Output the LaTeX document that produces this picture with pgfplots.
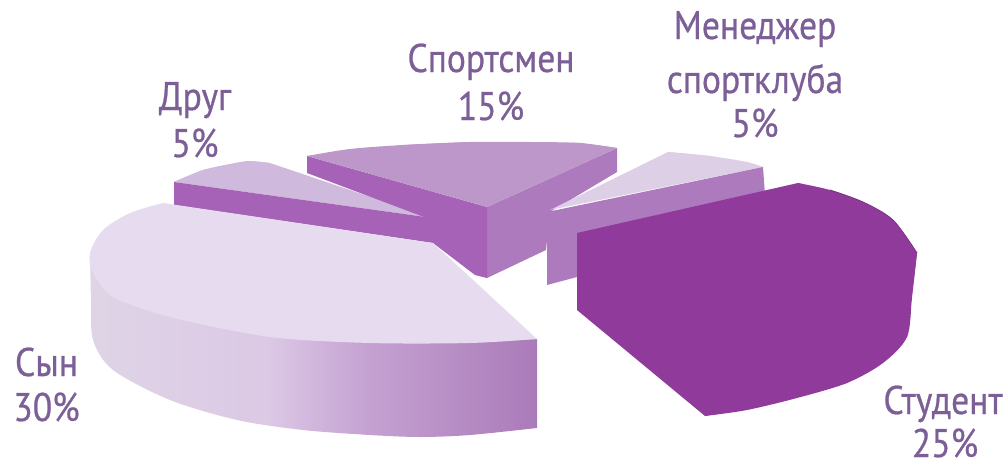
\documentclass[border=0pt]{standalone}
\usepackage{fontspec}
\setmainfont[FakeStretch=0.89,FakeBold=0.6]{PT Sans}
\usepackage{pgfplots}
\pgfplotsset{compat=1.18}
\definecolor{txt}{HTML}{7D5F97}
\definecolor{student}{HTML}{903A9B}
\definecolor{darkface}{HTML}{A662B6}
\definecolor{midface}{HTML}{AE7ABE}
\definecolor{sporttop}{HTML}{BD97CA}
\definecolor{friendtop}{HTML}{CFB9DC}
\definecolor{mantop}{HTML}{DDCFE6}
\definecolor{sontop}{HTML}{E7DCEF}
\pgfdeclarehorizontalshading{sonside}{100bp}{
  color(0bp)=(sontop!92!gray); color(25bp)=(sontop!92!gray);
  color(45bp)=(sontop!80!midface); color(56bp)=(sontop!40!midface);
  color(75bp)=(midface!92!gray); color(100bp)=(midface!92!gray)}
\tikzset{lab/.style={txt, anchor=base, inner sep=0pt, font=\fontsize{40}{46}\selectfont}}
\begin{document}
\begin{tikzpicture}
\useasboundingbox (0,0) rectangle (1008pt,466pt);
\begin{axis}[
    at={(0,0)}, anchor=south west,
    scale only axis,
    width=1008pt, height=466pt,
    xmin=0, xmax=1008, ymin=0, ymax=466,
    y dir=reverse,
    hide axis,
    clip=false,
]
% friend slice
\addplot[draw=none, fill=friendtop] coordinates {(174,182)(203,170)(250,161)(270,163)(433,218)} --cycle;
\addplot[draw=none, fill=friendtop, smooth] coordinates {(174,182)(203,170)(235,163)(250,161)(270,163)};
\addplot[draw=none, fill=darkface] coordinates {(174,182)(433,218)(433,243)(174,205)} --cycle;
% sportsman slice
\addplot[draw=none, fill=midface] coordinates {(487,207)(617,148)(617,172)(550,212)(546,250)(487,278)} --cycle;
\addplot[draw=none, fill=darkface] coordinates {(307,156)(487,207)(487,278)(475,275)(433,243)(432,220)(307,173)} --cycle;
\addplot[draw=none, fill=sporttop] coordinates {(307,156)(403,145)(470,142)(580,143)(617,148)(487,207)} --cycle;
\addplot[draw=none, fill=sporttop, smooth] coordinates {(307,156)(350,149)(403,145)(470,142)(530,142)(580,143)(617,148)};
% manager slice
\addplot[draw=none, fill=mantop] coordinates {(550,210)(668,152)(710,156)(763,167)} --cycle;
\addplot[draw=none, fill=mantop, smooth] coordinates {(668,152)(710,156)(747,162)(763,167)};
\addplot[draw=none, fill=midface] coordinates {(547,212)(763,167)(765,195)(577,240)(577,277)(547,285)} --cycle;
% son slice
\addplot[draw=none, shading=sonside, smooth] coordinates {(90,253)(91,300)(93,340)(113,370)(170,400)(237,420)(303,430)(370,435)(420,437)(470,435)(537,428)} -- (axis cs:537,339) -- cycle;
\addplot[draw=none, fill=sontop] coordinates {(163,203)(433,243)(537,339)(370,343)(170,317)(90,253)} --cycle;
\addplot[draw=none, fill=sontop, smooth] coordinates {(163,203)(130,213)(103,230)(90,253)(93,273)(113,297)(170,317)(270,337)(370,343)(470,343)(537,339)};
% student slice
\addplot[draw=none, fill=student] coordinates {(577,233)(798,183)(863,202)(917,253)(907,337)(847,383)(705,416)(577,310)} --cycle;
\addplot[draw=none, fill=student, smooth] coordinates {(798,183)(830,190)(863,202)(893,220)(917,253)};
\addplot[draw=none, fill=student, smooth] coordinates {(917,253)(912,297)(907,337)(883,363)(847,383)(797,398)(747,410)(705,416)};
\addplot[color=student!85!black, line width=0.8pt, smooth] coordinates {(830,190)(863,202)(893,220)(917,253)};
% labels
\node[lab] at (axis cs:755,39) {Менеджер};
\node[lab] at (axis cs:755,93) {спортклуба};
\node[lab] at (axis cs:755,137) {5\%};
\node[lab] at (axis cs:491,72) {Спортсмен};
\node[lab] at (axis cs:491,120) {15\%};
\node[lab] at (axis cs:195,110) {Друг};
\node[lab] at (axis cs:195,157) {5\%};
\node[lab] at (axis cs:46.5,376) {Сын};
\node[lab] at (axis cs:46.5,421) {30\%};
\node[lab] at (axis cs:943,414) {Студент};
\node[lab] at (axis cs:945,457) {25\%};
\end{axis}
\end{tikzpicture}
\end{document}
